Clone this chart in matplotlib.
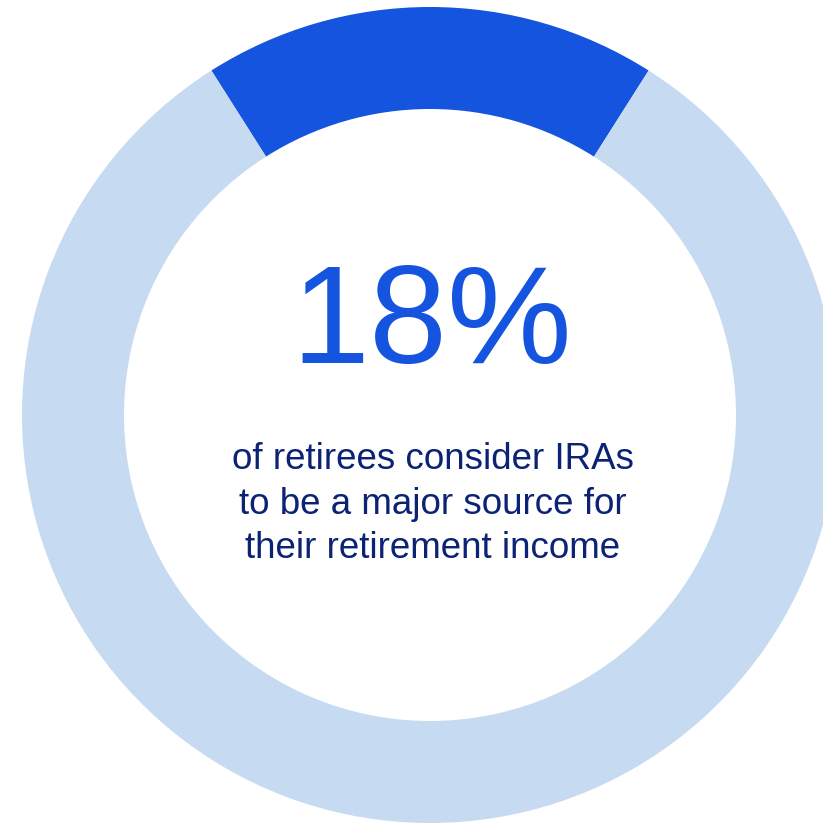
import matplotlib.pyplot as plt

# share of retirees (label) and the two ring parts
share_pct = 18
ring_labels = ['IRAs major source', 'Other']
ring_values = [share_pct, 100 - share_pct]
ring_colors = ['#1554DE', '#C6DAF2']

caption_lines = [
    'of retirees consider IRAs',
    'to be a major source for',
    'their retirement income',
]

W, H = 823, 824
fig = plt.figure(figsize=(W / 100, H / 100), dpi=100)
ax = fig.add_axes([0, 0, 1, 1])

# donut, centred at the top
half = ring_values[0] / 100 * 360 / 2
ax.pie(ring_values, colors=ring_colors, startangle=90 - half, counterclock=True,
       center=(430, 409), radius=408,
       wedgeprops=dict(width=102, linewidth=0))

ax.set_xlim(0, W)
ax.set_ylim(0, H)
ax.set_aspect('equal')
ax.axis('off')

font = ['Liberation Sans', 'DejaVu Sans']

# big number
ax.text(432, 824 - 363, f'{share_pct}%', ha='center', va='baseline',
        fontsize=101, color='#1554DE', family=font)

# caption under it
baselines = [469, 514, 558]
for line, yb in zip(caption_lines, baselines):
    ax.text(433, 824 - yb, line, ha='center', va='baseline',
            fontsize=26.5, color='#0B2275', family=font)

fig.savefig('out.png', dpi=100)
